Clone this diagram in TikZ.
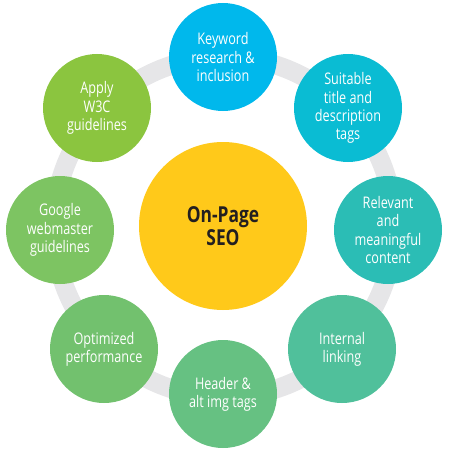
\documentclass[tikz,border=0pt]{standalone}
\usepackage{fontspec}
\setmainfont{Open Sans}[FakeStretch=0.79]
\usepackage{tikz}
\usetikzlibrary{positioning}
\definecolor{ringgrey}{HTML}{E6E6E8}
\definecolor{hubY}{HTML}{FFC91A}
\definecolor{hubText}{HTML}{231F20}
\definecolor{keyA}{HTML}{00B8EC}
\definecolor{keyB}{HTML}{0ABCD3}
\definecolor{keyC}{HTML}{2BBDB5}
\definecolor{keyD}{HTML}{50C09B}
\definecolor{keyE}{HTML}{66C182}
\definecolor{keyF}{HTML}{72C16E}
\definecolor{keyG}{HTML}{7DC462}
\definecolor{keyH}{HTML}{8BC53F}
\tikzset{
  topic/.style={circle, minimum size=108pt, inner sep=0pt, align=center,
    text=white, font=\fontsize{16}{18.3}\selectfont},
  hub/.style={circle, minimum size=168pt, inner sep=0pt, align=center,
    fill=hubY, text=hubText, font=\fontsize{22}{23.5}\selectfont\bfseries}
}

\begin{document}
\begin{tikzpicture}[x=1pt, y=-1pt]
      \useasboundingbox (0,0) rectangle (450,452);
      \def\ringR{170pt}
      \def\ringW{19pt}

      % Grey ring behind the topics
      \draw[ringgrey, line width=\ringW] (224,227) circle (\ringR);

      % Centre
      \node[hub] (seo) at (223,226) {On-Page\\SEO};

      % Topics, clockwise from the top
      \node[topic, fill=keyA] (keyword) at (223,57) {Keyword\\research \&\\inclusion};
      \node[topic, fill=keyB] (title) at (348,108) {Suitable\\title and\\description\\tags};
      \node[topic, fill=keyC] (content) at (388,230) {Relevant\\and\\meaningful\\content};
      \node[topic, fill=keyD] (linking) at (342,349) {Internal\\linking};
      \node[topic, fill=keyE] (header) at (223,394) {Header \&\\alt img tags};
      \node[topic, fill=keyF] (perf) at (104,349) {Optimized\\performance};
      \node[topic, fill=keyG] (google) at (60,230) {Google\\webmaster\\guidelines};
      \node[topic, fill=keyH] (wthreec) at (97,108) {Apply\\W3C\\guidelines};
    \end{tikzpicture}
\end{document}
